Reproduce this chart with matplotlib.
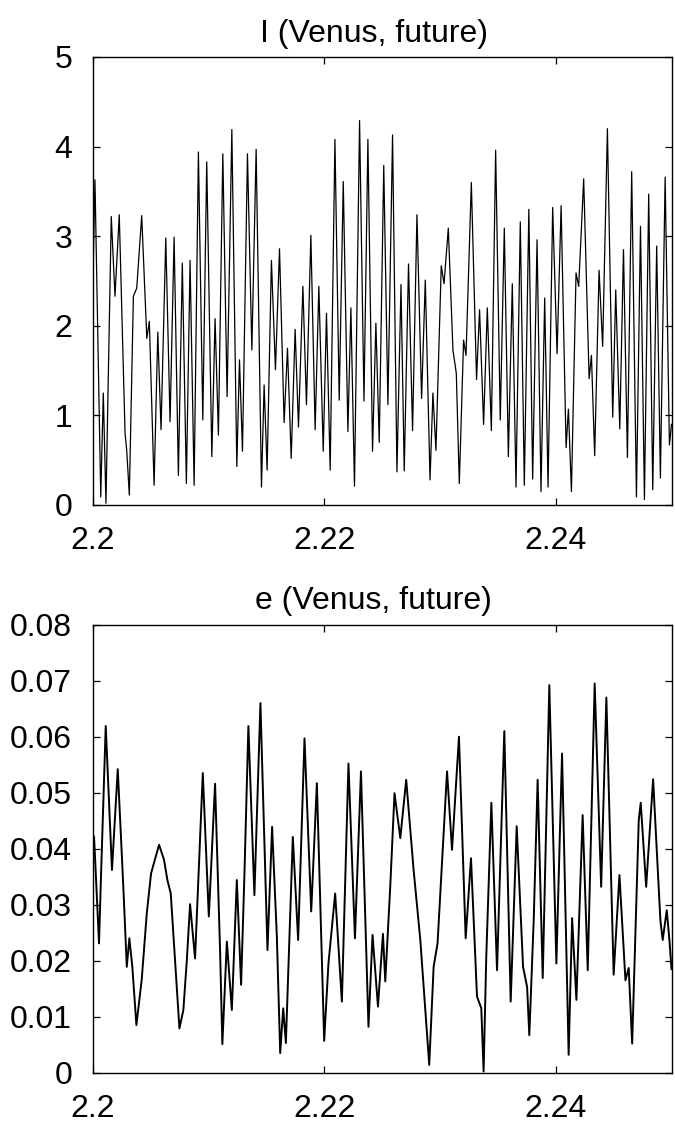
import matplotlib
matplotlib.use("Agg")
import matplotlib.pyplot as plt
from matplotlib.ticker import FixedLocator, FuncFormatter

plt.rcParams['font.family'] = ['Liberation Sans', 'DejaVu Sans']

# ---- Data: inclination I (deg) of Venus vs time (Gyr), extrema ----
inc_t = [2.20000, 2.20017, 2.20067, 2.20089, 2.20112, 2.20158, 2.20190, 2.20227,
         2.20277, 2.20291, 2.20314, 2.20349, 2.20378, 2.20421, 2.20465, 2.20487,
         2.20528, 2.20560, 2.20588, 2.20629, 2.20666, 2.20701, 2.20738, 2.20772,
         2.20807, 2.20839, 2.20874, 2.20911, 2.20949, 2.20983, 2.21027, 2.21055,
         2.21084, 2.21122, 2.21159, 2.21200, 2.21243, 2.21266, 2.21292, 2.21335,
         2.21373, 2.21410, 2.21456, 2.21479, 2.21505, 2.21542, 2.21577, 2.21612,
         2.21652, 2.21681, 2.21713, 2.21747, 2.21776, 2.21814, 2.21845, 2.21883,
         2.21920, 2.21952, 2.21990, 2.22018, 2.22050, 2.22091, 2.22128, 2.22163,
         2.22203, 2.22229, 2.22260, 2.22304, 2.22342, 2.22376, 2.22416, 2.22445,
         2.22474, 2.22513, 2.22549, 2.22589, 2.22627, 2.22662, 2.22690, 2.22727,
         2.22762, 2.22800, 2.22840, 2.22872, 2.22913, 2.22938, 2.22964, 2.23010,
         2.23034, 2.23071, 2.23111, 2.23140, 2.23166, 2.23203, 2.23224, 2.23270,
         2.23315, 2.23341, 2.23376, 2.23408, 2.23443, 2.23480, 2.23520, 2.23555,
         2.23590, 2.23624, 2.23656, 2.23693, 2.23728, 2.23767, 2.23800, 2.23838,
         2.23872, 2.23904, 2.23933, 2.23973, 2.24011, 2.24046, 2.24089, 2.24109,
         2.24135, 2.24175, 2.24198, 2.24241, 2.24288, 2.24308, 2.24336, 2.24374,
         2.24405, 2.24446, 2.24492, 2.24518, 2.24553, 2.24585, 2.24619, 2.24656,
         2.24697, 2.24732, 2.24766, 2.24803, 2.24838, 2.24872, 2.24904, 2.24945,
         2.24982, 2.25000]
inc_v = [2.55, 3.63, 0.09, 1.25, 0.02, 3.22, 2.33, 3.24,
         0.80, 0.62, 0.11, 2.33, 2.42, 3.23, 1.86, 2.05,
         0.22, 1.93, 0.84, 2.98, 0.93, 2.99, 0.33, 2.70,
         0.24, 2.73, 0.22, 3.94, 0.95, 3.83, 0.54, 2.08,
         0.78, 3.92, 1.21, 4.19, 0.43, 1.62, 0.60, 3.92,
         1.73, 3.97, 0.20, 1.34, 0.39, 2.73, 1.51, 2.86,
         0.92, 1.75, 0.52, 1.96, 0.87, 2.44, 1.12, 3.01,
         0.84, 2.44, 0.60, 2.14, 0.39, 4.08, 1.17, 3.61,
         0.82, 2.20, 0.21, 4.29, 1.16, 4.08, 0.60, 2.03,
         0.70, 3.79, 1.12, 4.13, 0.37, 2.46, 0.38, 2.69,
         0.83, 3.24, 1.19, 2.51, 0.28, 1.25, 0.61, 2.67,
         2.47, 3.09, 1.73, 1.47, 0.24, 1.84, 1.67, 3.60,
         1.40, 2.18, 0.90, 2.20, 0.83, 3.96, 0.95, 3.09,
         0.54, 2.47, 0.20, 3.16, 0.22, 3.30, 0.29, 2.96,
         0.15, 2.31, 0.20, 3.32, 1.69, 3.34, 0.64, 1.07,
         0.15, 2.59, 2.44, 3.64, 1.41, 1.67, 0.55, 2.62,
         1.77, 4.20, 0.98, 2.40, 0.85, 2.85, 0.53, 3.72,
         0.09, 3.11, 0.06, 3.47, 0.17, 2.89, 0.30, 3.66,
         0.67, 0.90]

# ---- Data: eccentricity e of Venus vs time (Gyr), extrema ----
ecc_t = [2.20000, 2.20009, 2.20052, 2.20069, 2.20110, 2.20164, 2.20214, 2.20262,
         2.20292, 2.20314, 2.20340, 2.20375, 2.20421, 2.20465, 2.20502, 2.20571,
         2.20614, 2.20643, 2.20672, 2.20747, 2.20781, 2.20811, 2.20839, 2.20882,
         2.20949, 2.21001, 2.21055, 2.21099, 2.21118, 2.21157, 2.21200, 2.21243,
         2.21280, 2.21309, 2.21343, 2.21395, 2.21447, 2.21508, 2.21548, 2.21589,
         2.21618, 2.21644, 2.21667, 2.21727, 2.21773, 2.21828, 2.21886, 2.21935,
         2.21998, 2.22035, 2.22093, 2.22151, 2.22208, 2.22264, 2.22316, 2.22381,
         2.22416, 2.22463, 2.22506, 2.22526, 2.22569, 2.22606, 2.22656, 2.22707,
         2.22771, 2.22829, 2.22906, 2.22944, 2.22978, 2.23060, 2.23103, 2.23163,
         2.23221, 2.23267, 2.23319, 2.23356, 2.23376, 2.23399, 2.23443, 2.23492,
         2.23555, 2.23610, 2.23662, 2.23717, 2.23752, 2.23771, 2.23809, 2.23843,
         2.23887, 2.23944, 2.24005, 2.24054, 2.24111, 2.24141, 2.24178, 2.24232,
         2.24276, 2.24336, 2.24392, 2.24437, 2.24500, 2.24550, 2.24602, 2.24630,
         2.24660, 2.24717, 2.24734, 2.24781, 2.24841, 2.24904, 2.24924, 2.24959,
         2.24982, 2.25000]
ecc_v = [0.0399, 0.0422, 0.0231, 0.0350, 0.0619, 0.0362, 0.0542, 0.0332,
         0.0189, 0.0240, 0.0189, 0.0085, 0.0166, 0.0285, 0.0356, 0.0407,
         0.0380, 0.0344, 0.0320, 0.0079, 0.0112, 0.0201, 0.0301, 0.0204,
         0.0535, 0.0279, 0.0516, 0.0213, 0.0051, 0.0234, 0.0112, 0.0344,
         0.0157, 0.0355, 0.0619, 0.0317, 0.0660, 0.0219, 0.0439, 0.0243,
         0.0035, 0.0115, 0.0053, 0.0421, 0.0237, 0.0597, 0.0288, 0.0517,
         0.0057, 0.0195, 0.0320, 0.0127, 0.0552, 0.0240, 0.0538, 0.0082,
         0.0246, 0.0118, 0.0248, 0.0163, 0.0332, 0.0499, 0.0419, 0.0523,
         0.0362, 0.0237, 0.0014, 0.0189, 0.0231, 0.0538, 0.0398, 0.0600,
         0.0240, 0.0383, 0.0136, 0.0115, 0.0002, 0.0207, 0.0482, 0.0183,
         0.0610, 0.0127, 0.0440, 0.0189, 0.0153, 0.0067, 0.0272, 0.0523,
         0.0169, 0.0692, 0.0195, 0.0570, 0.0032, 0.0276, 0.0130, 0.0460,
         0.0183, 0.0695, 0.0332, 0.0670, 0.0175, 0.0353, 0.0165, 0.0187,
         0.0052, 0.0451, 0.0482, 0.0332, 0.0524, 0.0272, 0.0237, 0.0290,
         0.0237, 0.0185]

x_ticks = [2.20, 2.22, 2.24]
x_ticklabels = ["2.2", "2.22", "2.24"]
inc_ticks = [0, 1, 2, 3, 4, 5]
ecc_ticks = [0, 0.01, 0.02, 0.03, 0.04, 0.05, 0.06, 0.07, 0.08]

titles = ["I (Venus, future)", "e (Venus, future)"]

W, H = 675, 1125
fig = plt.figure(figsize=(W / 100, H / 100), dpi=100)
left = 93 / W
width = 578.5 / W
ax1 = fig.add_axes([left, (H - 505) / H, width, 448 / H])
ax2 = fig.add_axes([left, (H - 1072.7) / H, width, 448 / H])

FS = 23

def style(ax, yticks, fmt):
    ax.set_xlim(2.2, 2.25)
    ax.xaxis.set_major_locator(FixedLocator(x_ticks))
    ax.set_xticklabels(x_ticklabels)
    ax.yaxis.set_major_locator(FixedLocator(yticks))
    ax.yaxis.set_major_formatter(FuncFormatter(fmt))
    ax.tick_params(direction='in', top=True, right=True, length=5, width=0.9,
                   labelsize=FS)
    ax.tick_params(axis='x', pad=15)
    ax.tick_params(axis='y', pad=15)
    for s in ax.spines.values():
        s.set_linewidth(1.0)
        s.set_color('black')

ax1.plot(inc_t, inc_v, color='black', lw=0.9)
ax1.set_ylim(0, 5)
style(ax1, inc_ticks, lambda v, p: "%g" % v)
ax1.set_title(titles[0], fontsize=FS, pad=11, x=0.485)

ax2.plot(ecc_t, ecc_v, color='black', lw=1.4)
ax2.set_ylim(0, 0.08)
style(ax2, ecc_ticks, lambda v, p: "%g" % round(v, 2))
ax2.set_title(titles[1], fontsize=FS, pad=11, x=0.485)

fig.savefig("out.png", dpi=100)
